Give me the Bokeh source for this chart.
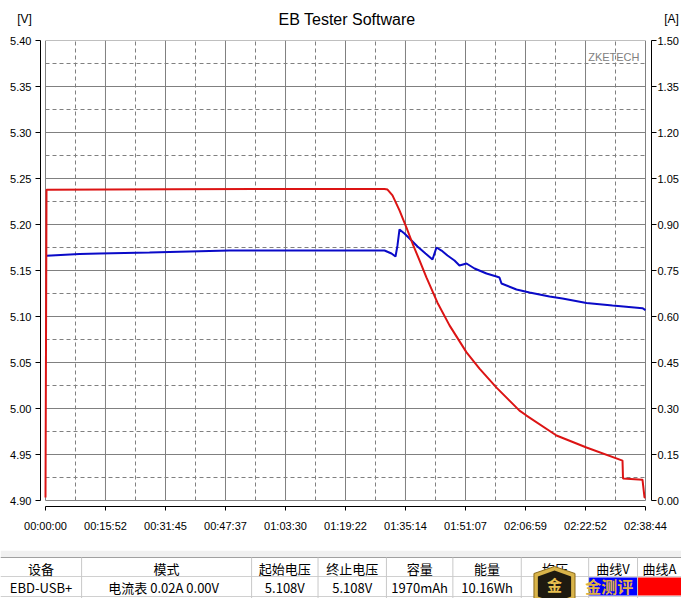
from bokeh.plotting import figure
from bokeh.models import Range1d, LinearAxis, FixedTicker, PrintfTickFormatter, Label
from bokeh.layouts import column
from bokeh.embed import file_html
from bokeh.resources import INLINE
from bokeh.core.properties import value

# ---------------- data ----------------
# voltage curve (blue, left axis) : time in seconds, volts
time_v = [16, 540, 857, 1651, 2921, 4032, 5381, 5492, 5556, 5587, 5619, 5698, 5778,
          5905, 6032, 6143, 6206, 6286, 6381, 6492, 6571, 6683, 6810, 7000, 7159,
          7206, 7238, 7476, 7683, 8000, 8206, 8587, 9000, 9476, 9524]
volt = [5.166, 5.168, 5.1685, 5.1696, 5.1717, 5.1717, 5.1717, 5.1685, 5.1652, 5.1772,
        5.1946, 5.1902, 5.1848, 5.1761, 5.1685, 5.1620, 5.1750, 5.1717, 5.1663, 5.1609,
        5.1554, 5.1576, 5.1522, 5.1467, 5.1435, 5.1424, 5.1359, 5.1293, 5.1261, 5.1217,
        5.1196, 5.1147, 5.1120, 5.1090, 5.1070]

# current curve (red, right axis) : time in seconds, amps
time_a = [0, 16, 2000, 4000, 5380, 5429, 5508, 5619, 5730, 5826, 5937, 6048, 6222,
          6413, 6683, 6889, 7159, 7524, 7635, 8111, 8587, 9159, 9167, 9476, 9508, 9524]
amp = [0.010, 1.013, 1.015, 1.016, 1.016, 1.014, 0.995, 0.946, 0.890, 0.838, 0.783,
       0.727, 0.645, 0.571, 0.483, 0.430, 0.368, 0.293, 0.277, 0.212, 0.173, 0.130,
       0.072, 0.068, 0.010, 0.010]

x_ticks = [0, 952, 1905, 2857, 3810, 4762, 5714, 6667, 7619, 8572, 9524]
x_labels = ["00:00:00", "00:15:52", "00:31:45", "00:47:37", "01:03:30", "01:19:22",
            "01:35:14", "01:51:07", "02:06:59", "02:22:52", "02:38:44"]
v_ticks = [4.90, 4.95, 5.00, 5.05, 5.10, 5.15, 5.20, 5.25, 5.30, 5.35, 5.40]
a_ticks = [0.00, 0.15, 0.30, 0.45, 0.60, 0.75, 0.90, 1.05, 1.20, 1.35, 1.50]

title_text = "EB Tester Software"
unit_labels = ["[V]", "[A]"]
header_labels = ["设备", "模式", "起始电压", "终止电压", "容量", "能量", "均压", "曲线V", "曲线A"]
row_values = ["EBD-USB+", "电流表  0.02A  0.00V", "5.108V", "5.108V", "1970mAh", "10.16Wh", "", "", ""]
col_edges = [0, 83, 257, 325, 395, 463, 533, 602, 652, 697]
curve_colors = ["#0000ff", "#ff0000"]

# ---------------- geometry helpers ----------------
T_END = x_ticks[-1]
SPP = T_END / 600.0          # seconds per pixel
VPP = 0.5 / 460.0            # volts per pixel
APP = 1.5 / 460.0            # amps per pixel
FONT = "Liberation Sans"
W = 681

# ---------------- header strip (title + units) ----------------
h = figure(width=W, height=32, output_backend="svg", toolbar_location=None,
           x_range=Range1d(0, W), y_range=Range1d(32, 0),
           x_axis_type=None, y_axis_type=None, min_border=0)
h.frame_align = False
h.outline_line_color = None
h.xgrid.visible = False
h.ygrid.visible = False
h.text(x=[346.5], y=[19], text=[title_text], text_align="center", text_baseline="middle",
       text_font=value(FONT), text_font_size="16px", text_color="black")
h.text(x=[24, 671], y=[18, 18], text=unit_labels, text_align="center", text_baseline="middle",
       text_font=value(FONT), text_font_size="12px", text_color="black")

# ---------------- chart ----------------
p = figure(width=W, height=518, output_backend="svg", toolbar_location=None,
           x_range=Range1d(-5 * SPP, T_END + 6 * SPP),
           y_range=Range1d(v_ticks[0] - 6 * VPP, v_ticks[-1]),
           x_axis_type=None, y_axis_type=None,
           min_border_left=40, min_border_right=29, min_border_top=8, min_border_bottom=44)
p.frame_align = False
p.extra_y_ranges = {"amp": Range1d(a_ticks[0] - 6 * APP, a_ticks[-1])}
p.outline_line_color = None
p.background_fill_color = "white"
p.border_fill_color = "white"

def style_axis(ax, size="11px", standoff=4, out=5):
    ax.major_tick_in = 0
    ax.major_tick_out = out
    ax.minor_tick_in = 0
    ax.minor_tick_out = 0
    ax.axis_line_color = "black"
    ax.major_tick_line_color = "black"
    ax.major_label_text_font = FONT
    ax.major_label_text_font_size = size
    ax.major_label_text_color = "black"
    ax.major_label_standoff = standoff

xaxis = LinearAxis(ticker=FixedTicker(ticks=x_ticks),
                   major_label_overrides={t: l for t, l in zip(x_ticks, x_labels)},
                   bounds=(x_ticks[0], x_ticks[-1]))
style_axis(xaxis, standoff=9, out=4)
p.add_layout(xaxis, "below")

yaxis = LinearAxis(ticker=FixedTicker(ticks=v_ticks), formatter=PrintfTickFormatter(format="%.2f"),
                   bounds=(v_ticks[0], v_ticks[-1]))
style_axis(yaxis, standoff=4)
p.add_layout(yaxis, "left")

raxis = LinearAxis(y_range_name="amp", ticker=FixedTicker(ticks=a_ticks),
                   formatter=PrintfTickFormatter(format="%.2f"), bounds=(a_ticks[0], a_ticks[-1]))
style_axis(raxis, standoff=1)
p.add_layout(raxis, "right")

# grid (major solid, minor dashed)
gx_major = x_ticks
gx_minor = [(a + b) / 2 for a, b in zip(x_ticks[:-1], x_ticks[1:])]
gy_major = v_ticks
gy_minor = [(a + b) / 2 for a, b in zip(v_ticks[:-1], v_ticks[1:])]
v0, v1 = v_ticks[0], v_ticks[-1]
t0, t1 = x_ticks[0], x_ticks[-1]
p.segment(x0=gx_minor, y0=[v0] * len(gx_minor), x1=gx_minor, y1=[v1] * len(gx_minor),
          line_color="#808080", line_width=1, line_dash="4 3")
p.segment(x0=[t0] * len(gy_minor), y0=gy_minor, x1=[t1] * len(gy_minor), y1=gy_minor,
          line_color="#808080", line_width=1, line_dash="4 3")
p.segment(x0=gx_major, y0=[v0] * len(gx_major), x1=gx_major, y1=[v1] * len(gx_major),
          line_color="#808080", line_width=1)
p.segment(x0=[t0] * len(gy_major), y0=gy_major, x1=[t1] * len(gy_major), y1=gy_major,
          line_color="#808080", line_width=1)

# curves
p.line(time_v, volt, line_color="#0a0ac8", line_width=2)
p.line(time_a, amp, line_color="#dc1414", line_width=2, y_range_name="amp")

p.add_layout(Label(x=T_END - 6 * SPP, y=v1 - 16 * VPP, text="ZKETECH", text_align="right",
                   text_baseline="middle", text_font=FONT, text_font_size="11px",
                   text_color="#808080"))

# ---------------- table ----------------
t = figure(width=W, height=48, output_backend="svg", toolbar_location=None,
           x_range=Range1d(0, 697), y_range=Range1d(598, 550),
           x_axis_type=None, y_axis_type=None, min_border=0)
t.frame_align = False
t.outline_line_color = None
t.background_fill_color = "white"
t.border_fill_color = "white"
t.xgrid.visible = False
t.ygrid.visible = False

row_top, row_mid, row_bot, row_end = 557, 576, 596, 613
t.quad(left=[0], right=[697], top=[550], bottom=[row_top], fill_color="#f0f0f0", line_color=None)
t.quad(left=col_edges[7:9], right=col_edges[8:10], top=[row_mid + 1] * 2, bottom=[row_bot - 1] * 2,
       fill_color=curve_colors, line_color=None)
t.segment(x0=[0, 0], y0=[row_mid, row_bot], x1=[697, 697], y1=[row_mid, row_bot],
          line_color="#d0d0d0", line_width=1)
t.segment(x0=[0, 0], y0=[row_top, row_end], x1=[697, 697], y1=[row_top, row_end],
          line_color="#a0a0a0", line_width=1)
inner = col_edges[1:-1]
t.segment(x0=inner, y0=[row_top] * len(inner), x1=inner, y1=[row_end] * len(inner),
          line_color="#c8c8c8", line_width=1)

centers = [(a + b) / 2 for a, b in zip(col_edges[:-1], col_edges[1:])]
t.text(x=centers, y=[(row_top + row_mid) / 2 + 1] * len(centers), text=header_labels,
       text_align="center", text_baseline="middle", text_font=value("Noto Sans CJK SC"),
       text_font_size="13px", text_color="black")
t.text(x=centers, y=[(row_mid + row_bot) / 2 + 1] * len(centers), text=row_values,
       text_align="center", text_baseline="middle", text_font=value("Noto Sans CJK SC"),
       text_font_size="13px", text_color="black")

# watermark (logo)
t.patch(x=[567, 588, 588, 567, 546, 546], y=[566, 573, 598, 606, 598, 573],
        fill_color="#d9b44a", line_color="#8a6a1a")
t.patch(x=[567, 584, 584, 567, 550, 550], y=[570, 576, 596, 602, 596, 576],
        fill_color="#1e1a10", line_color=None)
t.text(x=[567], y=[584], text=["金"], text_align="center", text_baseline="middle",
       text_font=value("Noto Sans CJK SC"), text_font_size="15px", text_font_style="bold",
       text_color="#e8c050")
t.text(x=[623], y=[585], text=["金测评"], text_align="center", text_baseline="middle",
       text_font=value("Noto Sans CJK SC"), text_font_size="16px", text_font_style="bold",
       text_color="#e0b040")

layout = column(h, p, t, spacing=0)
open("out.html", "w").write(file_html(layout, INLINE))
